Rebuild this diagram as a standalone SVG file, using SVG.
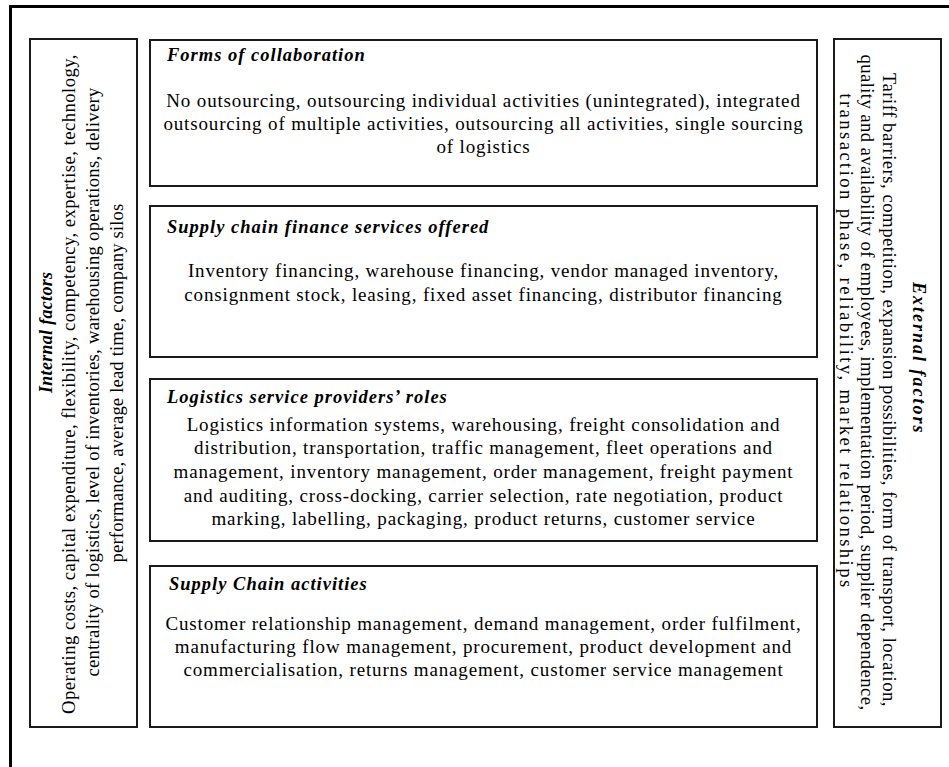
<svg xmlns="http://www.w3.org/2000/svg" width="949" height="767" viewBox="0 0 949 767">
  <style>
    .frame { fill: none; stroke: #000; stroke-width: 3; }
    .box { fill: #fff; stroke: #1a1a1a; stroke-width: 2; }
    .title { font-family: "Liberation Serif", "Times New Roman", serif; font-size: 18.5px; font-weight: bold; font-style: italic; fill: #000; letter-spacing: 1px; }
    .body { font-family: "Liberation Serif", "Times New Roman", serif; font-size: 19px; fill: #000; letter-spacing: 0.85px; }
    .side { font-family: "Liberation Serif", "Times New Roman", serif; font-size: 18.7px; fill: #000; text-anchor: middle; }
    .side-title { font-family: "Liberation Serif", "Times New Roman", serif; font-size: 18px; font-weight: bold; font-style: italic; fill: #000; }
    .mid { text-anchor: middle; }
  </style>
  <rect x="0" y="0" width="949" height="767" fill="#fff"/>
  <rect class="frame" x="10.5" y="6.5" width="945" height="775"/>

  <g id="internal-factors">
    <rect class="box" x="30" y="39" width="107" height="688"/>
    <text class="side-title" transform="translate(52,393) rotate(-90)" letter-spacing="0.3">Internal factors</text>
    <g class="side">
      <text transform="translate(75,384) rotate(-90)" letter-spacing="0.45">Operating costs, capital expenditure, flexibility, competency, expertise, technology,</text>
      <text transform="translate(99,382) rotate(-90)" letter-spacing="0.25">centrality of logistics, level of inventories, warehousing operations, delivery</text>
      <text transform="translate(123,383) rotate(-90)" letter-spacing="0.15">performance, average lead time, company silos</text>
    </g>
  </g>

  <g id="forms-of-collaboration">
    <rect class="box" x="150" y="40" width="667" height="146"/>
    <text class="title" x="167" y="61">Forms of collaboration</text>
    <g class="body mid">
      <text x="483.5" y="107">No outsourcing, outsourcing individual activities (unintegrated), integrated</text>
      <text x="483.5" y="130">outsourcing of multiple activities, outsourcing all activities, single sourcing</text>
      <text x="483.5" y="153">of logistics</text>
    </g>
  </g>

  <g id="finance-services">
    <rect class="box" x="150" y="206" width="667" height="151"/>
    <text class="title" x="167" y="233">Supply chain finance services offered</text>
    <g class="body mid">
      <text x="483.5" y="277">Inventory financing, warehouse financing, vendor managed inventory,</text>
      <text x="483.5" y="301">consignment stock, leasing, fixed asset financing, distributor financing</text>
    </g>
  </g>

  <g id="lsp-roles">
    <rect class="box" x="150" y="379" width="667" height="162"/>
    <text class="title" x="167" y="403">Logistics service providers’ roles</text>
    <g class="body mid">
      <text x="483.5" y="431">Logistics information systems, warehousing, freight consolidation and</text>
      <text x="483.5" y="454">distribution, transportation, traffic management, fleet operations and</text>
      <text x="483.5" y="478">management, inventory management, order management, freight payment</text>
      <text x="483.5" y="502">and auditing, cross-docking, carrier selection, rate negotiation, product</text>
      <text x="483.5" y="525">marking, labelling, packaging, product returns, customer service</text>
    </g>
  </g>

  <g id="supply-chain-activities">
    <rect class="box" x="150" y="566" width="667" height="161"/>
    <text class="title" x="169" y="590">Supply Chain activities</text>
    <g class="body mid">
      <text x="483.5" y="630">Customer relationship management, demand management, order fulfilment,</text>
      <text x="483.5" y="653">manufacturing flow management, procurement, product development and</text>
      <text x="483.5" y="676">commercialisation, returns management, customer service management</text>
    </g>
  </g>

  <g id="external-factors">
    <rect class="box" x="834" y="39" width="107" height="688"/>
    <text class="side-title" transform="translate(913,282) rotate(90)" letter-spacing="2">External factors</text>
    <g class="side">
      <text transform="translate(883,390) rotate(90)" letter-spacing="0.5">Tariff barriers, competition, expansion possibilities, form of transport, location,</text>
      <text transform="translate(861,382.5) rotate(90)" letter-spacing="0.4">quality and availability of employees, implementation period, supplier dependence,</text>
      <text transform="translate(840,341.5) rotate(90)" letter-spacing="2.4">transaction phase, reliability, market relationships</text>
    </g>
  </g>
</svg>
